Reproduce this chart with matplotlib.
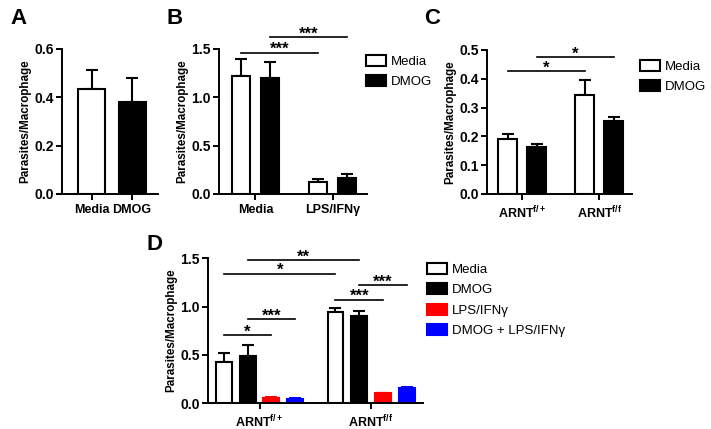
import matplotlib
matplotlib.use("Agg")
import matplotlib.pyplot as plt
import numpy as np
from matplotlib.patches import Patch

plt.rcParams['font.family'] = ['Liberation Sans', 'DejaVu Sans']
plt.rcParams['mathtext.fontset'] = 'custom'
plt.rcParams['mathtext.bf'] = 'Liberation Sans:bold'
plt.rcParams['mathtext.rm'] = 'Liberation Sans:bold'
plt.rcParams['mathtext.default'] = 'bf'

# ---- data ----
a_labels = ["Media", "DMOG"]
a_means = [0.435, 0.38]
a_errs = [0.077, 0.098]

b_groups = ["Media", "LPS/IFNγ"]
b_media = [1.22, 0.12]
b_media_err = [0.18, 0.04]
b_dmog = [1.20, 0.17]
b_dmog_err = [0.17, 0.04]

c_groups = [r"ARNT$^{f/+}$", r"ARNT$^{f/f}$"]
c_media = [0.19, 0.345]
c_media_err = [0.017, 0.05]
c_dmog = [0.163, 0.253]
c_dmog_err = [0.012, 0.015]

d_groups = [r"ARNT$^{f/+}$", r"ARNT$^{f/f}$"]
d_series = ["Media", "DMOG", "LPS/IFNγ", "DMOG + LPS/IFNγ"]
d_means = [[0.43, 0.94], [0.49, 0.90], [0.05, 0.10], [0.045, 0.155]]
d_errs = [[0.09, 0.04], [0.11, 0.05], [0.008, 0.008], [0.006, 0.008]]
d_faces = ["white", "black", "red", "blue"]
d_edges = ["black", "black", "red", "blue"]

fig = plt.figure(figsize=(7.11, 4.29), dpi=100)

XTICK_FS = 9
YTICK_FS = 10
LAB_FS = 8.4


def style_axis(ax, ylim, yticks):
    for s in ["top", "right"]:
        ax.spines[s].set_visible(False)
    for s in ["left", "bottom"]:
        ax.spines[s].set_linewidth(1.4)
    ax.set_ylim(*ylim)
    ax.set_yticks(yticks)
    ax.set_yticklabels([f"{t:.1f}" for t in yticks], fontsize=YTICK_FS, fontweight="bold")
    ax.tick_params(width=1.4, length=4)
    ax.tick_params(axis="y", pad=2)
    ax.set_ylabel("Parasites/Macrophage", fontsize=LAB_FS, fontweight="bold", labelpad=2)


def bars(ax, x, h, err, face, edge, width):
    ax.bar(x, h, width, color=face, edgecolor=edge, linewidth=1.5, zorder=2)
    ax.errorbar(x, h, yerr=[np.zeros(len(h)), err], fmt="none", ecolor=edge,
                elinewidth=1.5, capsize=4.5, capthick=1.5, zorder=1)


def sig(ax, x1, x2, y, text):
    ax.plot([x1, x2], [y, y], color="black", lw=1.2, clip_on=False)
    ax.annotate(text, ((x1 + x2) / 2, y), xytext=(0, -1), textcoords="offset points",
                ha="center", va="baseline", fontsize=12, fontweight="bold",
                annotation_clip=False)


# ---- panel A ----
axA = fig.add_axes([0.0872, 0.5478, 0.135, 0.338])
xa = np.arange(2)
bars(axA, xa, a_means, a_errs, ["white", "black"], "black", 0.667)
axA.set_xlim(-0.728, 1.64)
axA.set_xticks(xa)
axA.set_xticklabels(a_labels, fontsize=XTICK_FS, fontweight="bold")
style_axis(axA, (0, 0.6), [0, 0.2, 0.4, 0.6])

# ---- panel B ----
axB = fig.add_axes([0.308, 0.5478, 0.208, 0.338])
xb = np.arange(2)
off = 0.1877
bars(axB, xb - off, b_media, b_media_err, "white", "black", 0.24)
bars(axB, xb + off, b_dmog, b_dmog_err, "black", "black", 0.24)
axB.set_xlim(-0.472, 1.443)
axB.set_xticks(xb)
axB.set_xticklabels(b_groups, fontsize=XTICK_FS, fontweight="bold")
style_axis(axB, (0, 1.5), [0, 0.5, 1.0, 1.5])
sig(axB, -off, 1 - off, 1.46, "***")
sig(axB, off, 1 + off, 1.62, "***")

# ---- panel C ----
axC = fig.add_axes([0.685, 0.5478, 0.204, 0.336])
xc = np.arange(2)
bars(axC, xc - off, c_media, c_media_err, "white", "black", 0.246)
bars(axC, xc + off, c_dmog, c_dmog_err, "black", "black", 0.246)
axC.set_xlim(-0.453, 1.424)
axC.set_xticks(xc)
axC.set_xticklabels(c_groups, fontsize=XTICK_FS, fontweight="bold")
style_axis(axC, (0, 0.5), [0, 0.1, 0.2, 0.3, 0.4, 0.5])
sig(axC, -off, 1 - off, 0.425, "*")
sig(axC, off, 1 + off, 0.475, "*")

# ---- panel D ----
axD = fig.add_axes([0.2925, 0.0606, 0.3025, 0.3374])
xd = np.arange(2)
step = 0.2126
for i in range(4):
    bars(axD, xd + (i - 1.5) * step, d_means[i], d_errs[i], d_faces[i], d_edges[i], 0.143)
axD.set_xlim(-0.462, 1.466)
axD.set_xticks(xd)
axD.set_xticklabels(d_groups, fontsize=XTICK_FS, fontweight="bold")
style_axis(axD, (0, 1.5), [0, 0.5, 1.0, 1.5])
pos = lambda g, i: g + (i - 1.5) * step
sig(axD, pos(0, 1), pos(1, 1), 1.48, "**")
sig(axD, pos(0, 0), pos(1, 0), 1.34, "*")
sig(axD, pos(1, 1), pos(1, 3), 1.22, "***")
sig(axD, pos(1, 0), pos(1, 2), 1.07, "***")
sig(axD, pos(0, 1), pos(0, 3), 0.87, "***")
sig(axD, pos(0, 0), pos(0, 2), 0.70, "*")

# ---- legends ----
def legend(handles, labels, x, y):
    fig.legend(handles, labels, loc="upper left", bbox_to_anchor=(x, y),
               frameon=False, fontsize=9.5, handlelength=1.5, handleheight=0.9,
               handletextpad=0.4, labelspacing=0.55, borderaxespad=0, borderpad=0)

mk = lambda f, e: Patch(facecolor=f, edgecolor=e, linewidth=1.5)
legend([mk("white", "black"), mk("black", "black")], ["Media", "DMOG"], 366 / 711, 1 - 55 / 429)
legend([mk("white", "black"), mk("black", "black")], ["Media", "DMOG"], 640 / 711, 1 - 60 / 429)
legend([mk(f, e) for f, e in zip(d_faces, d_edges)], d_series, 427 / 711, 1 - 263 / 429)

# ---- panel letters ----
for letter, x, y in [("A", 10, 8), ("B", 167, 8), ("C", 424, 8), ("D", 147, 234)]:
    fig.text(x / 711, 1 - y / 429, letter, fontsize=16, fontweight="bold", va="top", ha="left")

fig.savefig("out.png", dpi=100)
